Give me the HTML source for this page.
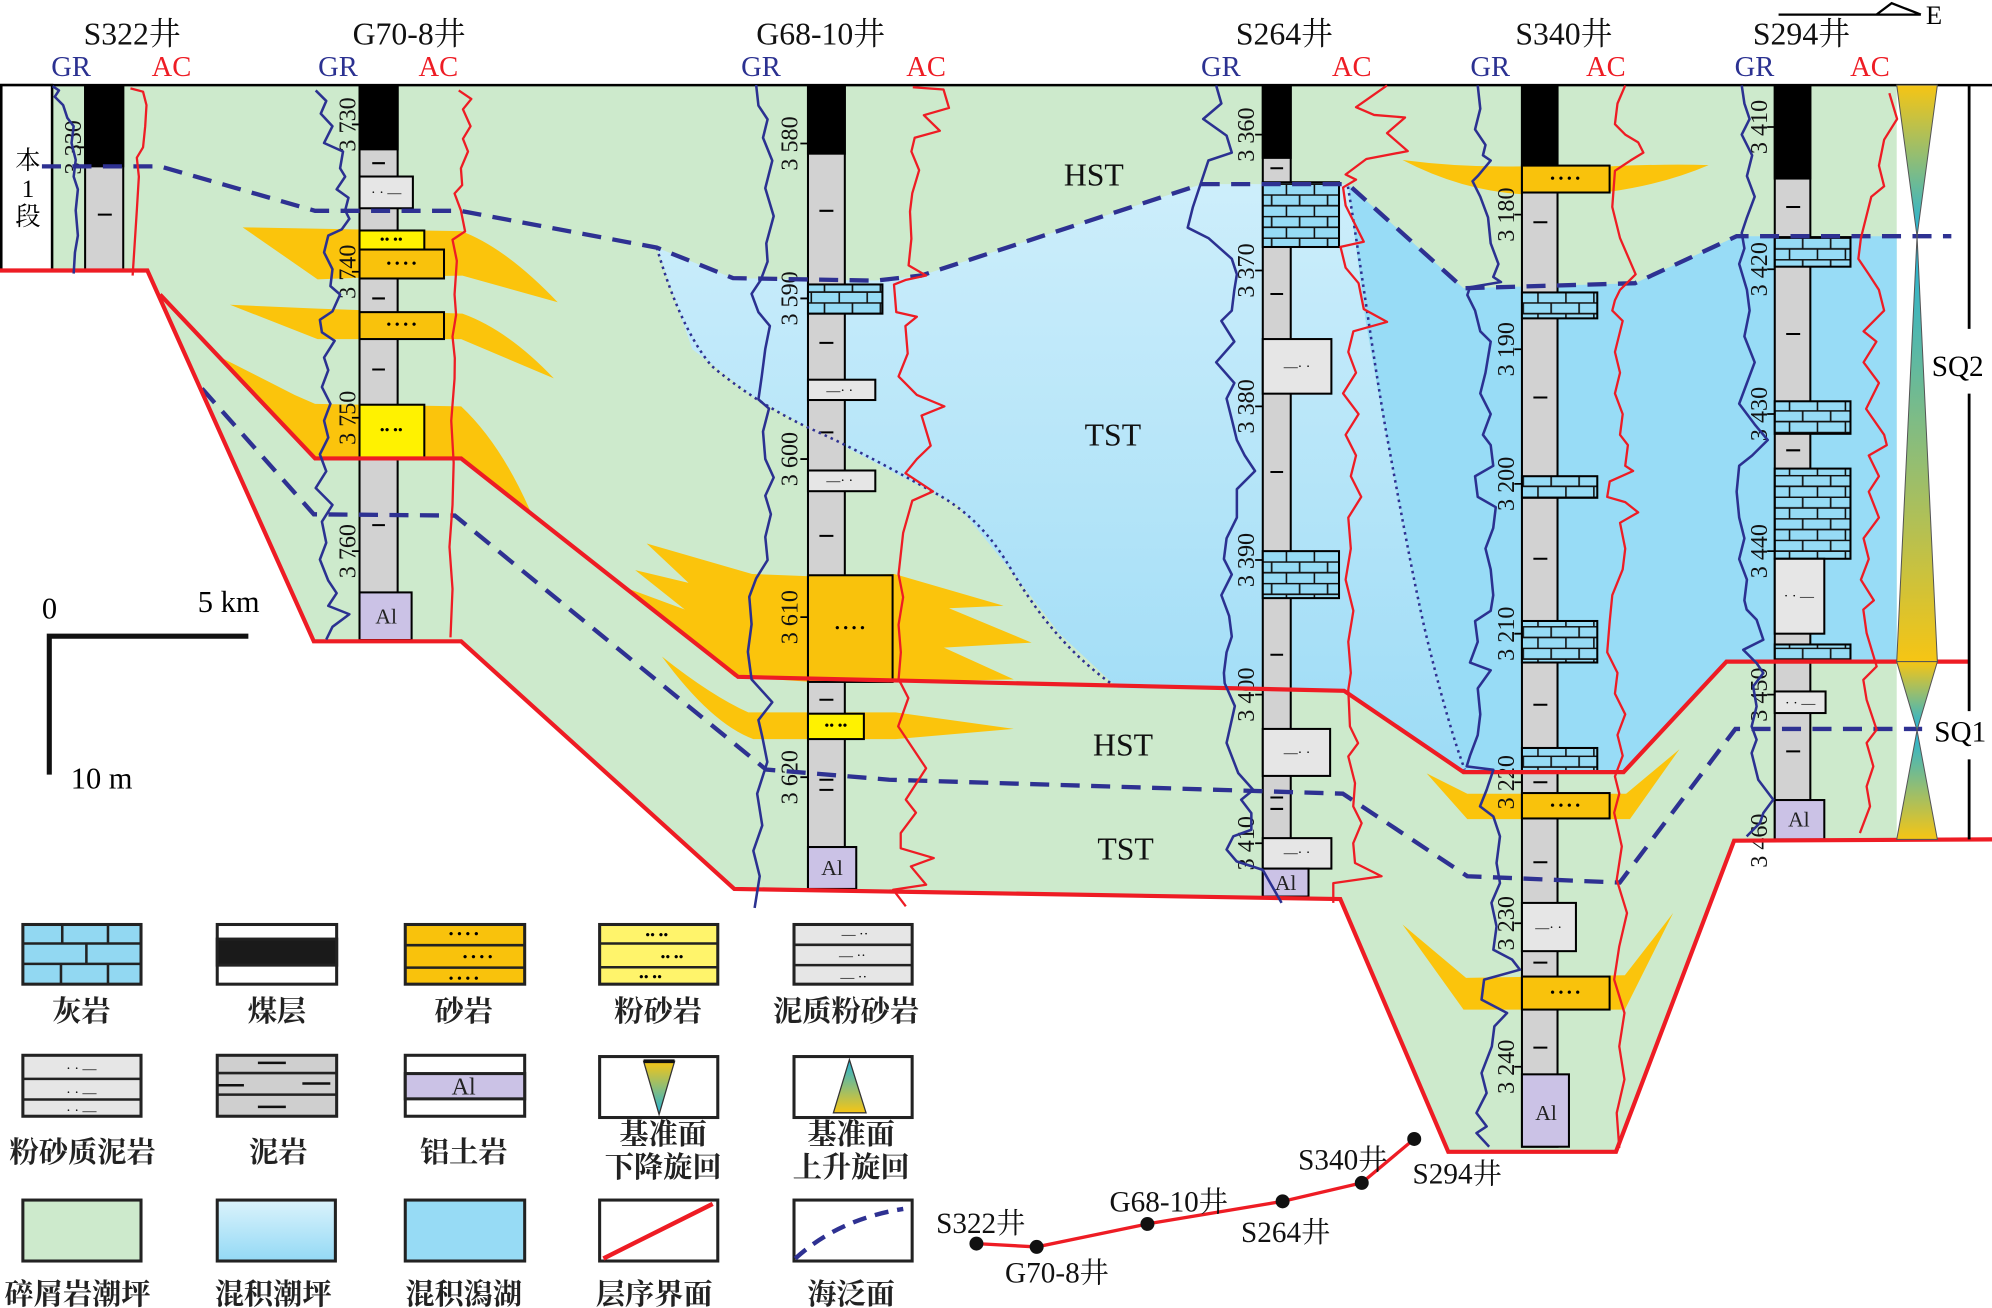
<!DOCTYPE html>
<html><head><meta charset="utf-8">
<style>
html,body{margin:0;padding:0;background:#fff;}
svg{display:block;}
text{font-family:"Liberation Serif","Noto Serif CJK SC",serif;}
.cjk{font-family:"Liberation Serif","Noto Serif CJK SC","Noto Sans CJK SC",serif;font-weight:bold;}
</style></head><body>
<svg width="1992" height="1308" viewBox="0 0 1568 1030" preserveAspectRatio="none" xmlns="http://www.w3.org/2000/svg">
<defs>
<pattern id="lime" width="22" height="17" patternUnits="userSpaceOnUse">
<rect width="22" height="17" fill="#96dbf5"/>
<path d="M0,0.5H22M0,9H22M11,0.5V9M0.6,9V17" stroke="#111" stroke-width="1.3" fill="none"/>
</pattern>
<linearGradient id="mix" x1="0" y1="145" x2="0" y2="600" gradientUnits="userSpaceOnUse">
<stop offset="0" stop-color="#cdeefb"/><stop offset="1" stop-color="#9edcf6"/></linearGradient>
<linearGradient id="ydn" x1="0" y1="0" x2="0" y2="1"><stop offset="0" stop-color="#f6c514"/><stop offset="0.5" stop-color="#8dbd78"/><stop offset="1" stop-color="#1fb3db"/></linearGradient>
<linearGradient id="yup" x1="0" y1="0" x2="0" y2="1"><stop offset="0" stop-color="#1fb3db"/><stop offset="0.5" stop-color="#8dbd78"/><stop offset="1" stop-color="#f6c514"/></linearGradient>
<linearGradient id="legmix" x1="0" y1="0" x2="0" y2="1"><stop offset="0" stop-color="#dbf3fc"/><stop offset="1" stop-color="#93d9f5"/></linearGradient>
</defs>
<rect width="1568" height="1030" fill="#fff"/>

<!-- green facies -->
<path d="M40,67 H1493 V661 H1365 L1272,907 H1140 L1055,708 L578,700 L363,505 H247 L116,213 H40 Z" fill="#cdeacc"/>
<!-- mixed tidal flat gradient -->
<path d="M517,195 L577,219 L689,221 L725,217 L946,145 L1061,145 L1075,253 L1088,326 L1104,408 L1120,489 L1141,567 L1152,608 L1055,544 L880,542 L834,499 L798,452 L754,398 L711,376 L639,338 L595,314 L545,275 Z" fill="url(#mix)"/>
<!-- lagoon -->
<path d="M1061,145 L1152,227 L1287,223 L1367,186 L1493,186 V521 H1359 L1278,608 H1152 L1141,567 L1120,489 L1104,408 L1088,326 L1075,253 Z" fill="#98dcf6"/>

<!-- sand tongues -->
<g fill="#fbc40c">
<path d="M191,179 L300,181 L363,182 Q398,195 439,238 L364,217 L300,218 L250,220 Z"/>
<path d="M181,240 L250,243 L364,247 Q400,260 436,298 L363,267 L250,267 Z"/>
<path d="M171,280 L232,311 L248,318 L363,320 Q395,350 419,406 L363,361 L248,361 Z"/>
<path d="M509,428 L592,452 L642,454 L704,452 L790,477 L747,479 L812,506 L743,510 L798,535 L703,537 L640,537 L578,533 L493,463 L539,480 L500,449 L542,459 Z"/>
<path d="M521,517 Q560,548 589,561 L705,561 L798,574 L705,582 L593,582 Q560,570 521,517 Z"/>
<path d="M1104,126 Q1150,132 1198,131 L1267,131 Q1310,129 1345,130 Q1310,145 1267,151 L1198,153 Q1150,150 1104,126 Z"/>
<path d="M1123,609 L1155,625 L1280,625 L1322,590 L1283,645 L1155,645 Z"/>
<path d="M1104,728 L1154,770 L1279,768 L1317,719 L1279,795 L1152,795 Z"/>
</g>

<!-- top line -->
<path d="M0,67 H1568" stroke="#000" stroke-width="2"/>

<!-- 本1段 box -->
<rect x="1" y="67" width="40" height="146" fill="#fff" stroke="#000" stroke-width="2"/>
<text x="22" y="133" font-size="20" text-anchor="middle" class="cjk" style="font-weight:normal">本</text>
<text x="22" y="155" font-size="20" text-anchor="middle">1</text>
<text x="22" y="177" font-size="20" text-anchor="middle" class="cjk" style="font-weight:normal">段</text>

<!-- ===== Columns ===== -->
<g stroke="#000" stroke-width="1.6">
<!-- S322 -->
<rect x="67" y="67" width="30" height="146" fill="#d2d2d2"/>
<rect x="67" y="67" width="30" height="64" fill="#000"/>
<!-- G70-8 -->
<rect x="283" y="67" width="30" height="437" fill="#d2d2d2"/>
<rect x="283" y="67" width="30" height="50.6" fill="#000"/>
<rect x="283" y="139" width="42" height="25" fill="#e6e6e6"/>
<rect x="283" y="181.5" width="51" height="15" fill="#fff200"/>
<rect x="283" y="196.5" width="66.5" height="22.8" fill="#f9c20c"/>
<rect x="283" y="245.8" width="66.5" height="21.2" fill="#f9c20c"/>
<rect x="283" y="318.7" width="51" height="41.7" fill="#fff200"/>
<rect x="283" y="466.5" width="41" height="37.5" fill="#cbc2e6"/>
<!-- G68-10 -->
<rect x="636" y="67" width="29" height="633" fill="#d2d2d2"/>
<rect x="636" y="67" width="29" height="54" fill="#000"/>
<rect x="636" y="224" width="58.6" height="23" fill="url(#lime)"/>
<rect x="636" y="299" width="53" height="16" fill="#e6e6e6"/>
<rect x="636" y="370.5" width="53" height="16.3" fill="#e6e6e6"/>
<rect x="636" y="453" width="66.6" height="84" fill="#f9c20c"/>
<rect x="636" y="562" width="44" height="20" fill="#fff200"/>
<rect x="636" y="667" width="38" height="33" fill="#cbc2e6"/>
<!-- S264 -->
<rect x="994" y="67" width="22" height="639" fill="#d2d2d2"/>
<rect x="994" y="67" width="22" height="57.3" fill="#000"/>
<rect x="994" y="143.5" width="60" height="51" fill="url(#lime)"/>
<rect x="994" y="267" width="54" height="43" fill="#e6e6e6"/>
<rect x="994" y="434" width="60" height="37" fill="url(#lime)"/>
<rect x="994" y="574" width="53" height="37" fill="#e6e6e6"/>
<rect x="994" y="660" width="54" height="24" fill="#e6e6e6"/>
<rect x="994" y="684" width="36" height="22" fill="#cbc2e6"/>
<!-- S340 -->
<rect x="1198" y="67" width="28" height="836" fill="#d2d2d2"/>
<rect x="1198" y="67" width="28" height="63.4" fill="#000"/>
<rect x="1198" y="130.4" width="69" height="21.2" fill="#f9c20c"/>
<rect x="1198" y="230.3" width="59.3" height="20.4" fill="url(#lime)"/>
<rect x="1198" y="375" width="59.3" height="17" fill="url(#lime)"/>
<rect x="1198" y="489" width="59.3" height="32.7" fill="url(#lime)"/>
<rect x="1198" y="589" width="59.3" height="19" fill="url(#lime)"/>
<rect x="1198" y="624.5" width="69" height="20" fill="#f9c20c"/>
<rect x="1198" y="711" width="42.5" height="38" fill="#e6e6e6"/>
<rect x="1198" y="769" width="69" height="26" fill="#f9c20c"/>
<rect x="1198" y="846" width="37" height="57" fill="#cbc2e6"/>
<!-- S294 -->
<rect x="1397" y="67" width="28" height="594" fill="#d2d2d2"/>
<rect x="1397" y="67" width="28" height="73.6" fill="#000"/>
<rect x="1397" y="186.7" width="59.6" height="23.3" fill="url(#lime)"/>
<rect x="1397" y="316" width="59.6" height="25.6" fill="url(#lime)"/>
<rect x="1397" y="369" width="59.6" height="71" fill="url(#lime)"/>
<rect x="1397" y="440" width="39" height="59" fill="#e6e6e6"/>
<rect x="1397" y="507.5" width="59.6" height="13.5" fill="url(#lime)"/>
<rect x="1397" y="544.5" width="40" height="17" fill="#e6e6e6"/>
<rect x="1397" y="630" width="39" height="31" fill="#cbc2e6"/>
</g>

<!-- mud dashes -->
<g stroke="#000" stroke-width="1.6">
<path d="M77,169H88 M293,128.5H303 M293,235H303 M293,291H303 M293,413.5H303
M645,166H656 M645,270H656 M645,340.5H656 M645,422H656 M645,551H656 M645,614H656 M645,622H656
M1000,132.5H1010 M1000,231.5H1010 M1000,371.7H1010 M1000,515.6H1010 M1000,628H1010 M1000,637H1010
M1207,175H1218 M1207,313H1218 M1207,440H1218 M1207,555H1218 M1207,616H1218 M1207,679H1218 M1207,758H1218 M1207,825H1218
M1406,163H1417 M1406,263H1417 M1406,354.6H1417 M1406,591.7H1417"/>
</g>
<!-- box symbols -->
<g font-size="11" text-anchor="middle" fill="#000">
<text x="304" y="155">· ·  —</text>
<text x="308" y="192">•• ••</text>
<text x="316" y="211">•  •  •  •</text>
<text x="316" y="259">•  •  •  •</text>
<text x="308" y="342">•• ••</text>
<text x="661" y="311">—· ·</text>
<text x="661" y="382">—· ·</text>
<text x="669" y="498">•  •  •  •</text>
<text x="658" y="575">•• ••</text>
<text x="1021" y="292">—· ·</text>
<text x="1021" y="596">—· ·</text>
<text x="1021" y="675">—· ·</text>
<text x="1232" y="144">•  •  •  •</text>
<text x="1232" y="638">•  •  •  •</text>
<text x="1219" y="734">—· ·</text>
<text x="1232" y="785">•  •  •  •</text>
<text x="1416" y="473">· · —</text>
<text x="1417" y="557">· · —</text>
</g>
<g font-size="17" text-anchor="middle" fill="#222">
<text x="304" y="491">Al</text>
<text x="655" y="689">Al</text>
<text x="1012" y="701">Al</text>
<text x="1217" y="882">Al</text>
<text x="1416" y="651">Al</text>
</g>

<!-- depth ticks -->
<g stroke="#000" stroke-width="1.4">
<path d="M61,116H67 M277,98H283 M277,214H283 M277,329H283 M277,434H283
M630,113H636 M630,235H636 M630,361.5H636 M630,486H636 M630,612H636
M988,106H994 M988,213H994 M988,320H994 M988,441H994 M988,547H994 M988,664H994
M1192,169H1198 M1192,275H1198 M1192,381H1198 M1192,499H1198 M1192,616H1198 M1192,727H1198 M1192,840H1198
M1391,100H1397 M1391,212H1397 M1391,326H1397 M1391,434H1397 M1391,547H1397 M1391,662H1397"/>
</g>
<g font-size="19" text-anchor="middle" fill="#111">
<text transform="translate(58,116) rotate(-90)" dominant-baseline="central">3 330</text>
<text transform="translate(274,98) rotate(-90)" dominant-baseline="central">3 730</text>
<text transform="translate(274,214) rotate(-90)" dominant-baseline="central">3 740</text>
<text transform="translate(274,329) rotate(-90)" dominant-baseline="central">3 750</text>
<text transform="translate(274,434) rotate(-90)" dominant-baseline="central">3 760</text>
<text transform="translate(622,113) rotate(-90)" dominant-baseline="central">3 580</text>
<text transform="translate(622,235) rotate(-90)" dominant-baseline="central">3 590</text>
<text transform="translate(622,361.5) rotate(-90)" dominant-baseline="central">3 600</text>
<text transform="translate(622,486) rotate(-90)" dominant-baseline="central">3 610</text>
<text transform="translate(622,612) rotate(-90)" dominant-baseline="central">3 620</text>
<text transform="translate(981,106) rotate(-90)" dominant-baseline="central">3 360</text>
<text transform="translate(981,213) rotate(-90)" dominant-baseline="central">3 370</text>
<text transform="translate(981,320) rotate(-90)" dominant-baseline="central">3 380</text>
<text transform="translate(981,441) rotate(-90)" dominant-baseline="central">3 390</text>
<text transform="translate(981,547) rotate(-90)" dominant-baseline="central">3 400</text>
<text transform="translate(981,664) rotate(-90)" dominant-baseline="central">3 410</text>
<text transform="translate(1186,169) rotate(-90)" dominant-baseline="central">3 180</text>
<text transform="translate(1186,275) rotate(-90)" dominant-baseline="central">3 190</text>
<text transform="translate(1186,381) rotate(-90)" dominant-baseline="central">3 200</text>
<text transform="translate(1186,499) rotate(-90)" dominant-baseline="central">3 210</text>
<text transform="translate(1186,616) rotate(-90)" dominant-baseline="central">3 220</text>
<text transform="translate(1186,727) rotate(-90)" dominant-baseline="central">3 230</text>
<text transform="translate(1186,840) rotate(-90)" dominant-baseline="central">3 240</text>
<text transform="translate(1385,100) rotate(-90)" dominant-baseline="central">3 410</text>
<text transform="translate(1385,212) rotate(-90)" dominant-baseline="central">3 420</text>
<text transform="translate(1385,326) rotate(-90)" dominant-baseline="central">3 430</text>
<text transform="translate(1385,434) rotate(-90)" dominant-baseline="central">3 440</text>
<text transform="translate(1385,547) rotate(-90)" dominant-baseline="central">3 450</text>
<text transform="translate(1385,662) rotate(-90)" dominant-baseline="central">3 460</text>
</g>

<!-- dotted facies boundaries -->
<g fill="none" stroke="#2e3192" stroke-width="2" stroke-dasharray="2 3.2">
<path d="M517,195 C530,240 545,270 560,288 C580,305 610,325 639,338 C670,352 700,368 730,385 C760,400 780,420 798,452 C815,480 840,515 880,542"/>
<path d="M1061,147 C1070,200 1082,290 1092,345 C1104,410 1115,470 1125,510 C1135,550 1145,585 1153,606"/>
</g>

<!-- flooding surfaces (dashed) -->
<g fill="none" stroke="#2e3192" stroke-width="3.4" stroke-dasharray="15 9">
<path d="M33,131 L126,131 L248,166 L362,166 L517,195 L577,219 L689,221 L725,217 L946,145 L1061,145 L1152,227 L1287,223 L1367,186 L1536,186"/>
<path d="M159,306 L247,405 L358,406 L603,606 L700,614 L1057,625 L1155,690 L1275,695 L1366,574 L1513,574"/>
</g>

<!-- sequence boundaries (red) -->
<g fill="none" stroke="#ee1c24" stroke-width="3.3" stroke-linejoin="miter">
<path d="M126,232 L248,361 L363,361 L581,533 L1058,544 L1152,608 L1278,608 L1359,521 L1550,521"/>
<path d="M0,213 L116,213 L247,505 L363,505 L578,700 L1055,708 L1140,907 L1272,907 L1365,662 L1568,661"/>
</g>

<!-- GR curves -->
<g fill="none" stroke="#2b3191" stroke-width="2" stroke-linejoin="round">
<polyline points="41.4,67.9 46.4,71.2 43.1,76.2 49.7,82.8 53,92.8 58,99.4 56.3,112.6 59.6,125.9 58,139.1 61.3,149.1 59.6,165.7 61.3,185.5 59,198.8 58,215.4"/>
<polyline points="248.5,71.2 256.8,79.5 252.5,89.5 261.7,99.4 255.1,112.6 270,119.3 267.7,132.5 271.7,139.1 265,149.1 274.3,155.7 271.7,165.7 275,172.3 269,180.6 258.4,185.5 255.1,198.8 261.7,212 260.1,225.3 267.7,231.9 261.7,245.2 251.8,251.8 253.4,261.7 263.4,268.4 255.1,281.6 258.4,291.5 253.4,304.8 260.1,318 255.1,331.3 258.4,344.6 251.8,357.8 256.8,371.1 248.5,384.3 261.7,397.6 253.4,410.8 256.8,427.4 251.8,440.6 258.4,457.2 265,467.1 258.4,477.1 275,483.7 261.7,493.6 256.8,503.6"/>
<polyline points="595.2,66.9 597,83.1 604.2,94 600.6,108.5 607.9,126.5 602.4,148.2 609,170.2 603.2,191.6 604.2,206 598.8,220.5 591.6,231.4 597,245.8 606,256.7 602.4,274.7 599.6,296.4 597,314.5 605.3,321.7 600.6,339.8 602.4,361.5 609,376 602.4,390.4 606.8,404.9 602.4,422.9 604.2,441 595.2,455.5 589.8,470 591.6,491.6 588.7,513.3 591.6,535 607.9,553 597,567 600,580 604,600 596,625 600,650 593,670 598,690 594,715"/>
<polyline points="957.3,67.3 961.4,81.5 947.1,93.7 965.5,106.8 969.6,120.2 951.2,126.4 945.1,144.7 939,163 934.9,179.3 951.2,187.5 969.6,203.8 973.6,216 971.6,228.3 969.6,244.6 961.4,252.7 971.6,269 957.3,285.3 971.6,301.6 965.5,313.9 969.6,330.2 973.6,346.5 979.8,358.7 987.9,370.9 973.6,385.2 973.6,407.6 965.5,423.9 963.4,440.2 969.6,452.4 961.4,468.7 967.5,485 969.6,501.3 965.5,513.6 963.4,529.9 964,538 972,556 965.5,585 974.7,608.8 986.5,622 977,629.8 985,640.3 985,653.4 970.8,658.6 965.5,669 973.4,678.3 994,685 1008.8,711"/>
<polyline points="1163.2,67.3 1165.2,85.6 1161.1,101.9 1169.3,114.1 1167.3,122.3 1173.4,126.4 1163.2,138.6 1159.1,142.7 1165.2,154.9 1171.3,171.2 1173.4,191.6 1179.5,207.9 1175.4,218.1 1181.5,222.1 1157.1,226.2 1155,232.3 1161.1,244.6 1165.2,260.9 1173.4,269 1169.3,293.5 1165.2,309.8 1173.4,326.1 1167.3,342.4 1173.4,350.5 1175.4,366.8 1161.1,375 1163.2,391.3 1177.4,399.4 1175.4,415.8 1169.3,432 1173.4,448.4 1175.4,468.7 1173.4,481 1161.1,489.1 1163.2,505.4 1157.1,521.7 1173.4,527.8 1163.2,542.1 1165.2,562.5 1163.2,578.8 1157.1,595.1 1154.5,603.5 1175.5,606.2 1170.2,622 1165,635 1175.5,643 1180.7,658.6 1178,679.6 1180.7,695.4 1174,711 1178,729.5 1175.5,747.9 1190.3,755.7 1196.4,763.6 1168.2,771.4 1166.2,787.2 1186.3,797.7 1176.3,808.2 1174.3,824 1166.2,845 1170.2,860.7 1162.2,876.4 1170.2,887 1162.2,892.2 1172.2,903"/>
<polyline points="1371,67.3 1373.1,81.5 1377.2,93.7 1371,106 1379.2,122.3 1375.1,138.6 1381.2,154.9 1375.1,171.2 1371,183.4 1373.1,195.6 1369,207.9 1375.1,228.3 1377.2,244.6 1373.1,264.9 1381.2,285.3 1375.1,301.6 1369,317.9 1381.2,334.2 1391.5,346.5 1379.2,358.7 1369,366.8 1367,387.2 1369,407.6 1373.1,423.9 1369,440.2 1375.1,456.5 1373.1,472.8 1374.9,480 1382.7,488 1388,503.8 1372.2,511.7 1382.7,522.2 1388,530 1380,540.5 1382.7,556.3 1378.8,572 1382.7,582.5 1378.8,593 1384,614 1395.8,629.7 1388,640.2 1385.4,648 1374.9,658.6"/>
</g>
<!-- AC curves -->
<g fill="none" stroke="#ee1c24" stroke-width="1.8" stroke-linejoin="round">
<polyline points="102.7,69.6 112.6,72.2 115.3,82.8 114.3,99.4 112.6,116 107.7,124.2 109.3,139.1 107.7,165.7 106,192.2 104.4,217"/>
<polyline points="361.1,71.2 371,77.9 364.4,86.1 370.4,99.4 364.4,109.3 368.4,119.3 362.8,132.5 363.8,145.8 357.8,152.4 362.8,165.7 366.1,182.2 356.2,188.8 359.6,205.4 357.8,231.9 359,248 356.2,265 358,282 357.8,298.2 355.2,331.3 357.1,364.4 356.2,397.6 353.8,430.7 356.2,463.8 354.6,501.9"/>
<polyline points="718.5,68.7 742.7,70.5 747,85 727.2,90.7 739.8,103 720,108.5 717.4,119.3 723.5,134 718.1,152.1 716.3,166.6 717.4,188 715.2,209 729,217 712.7,220.5 703.7,224.1 705.5,245.8 721.7,249.4 712.7,256.7 714.5,278.4 707.3,296.4 721.7,311 743.4,320 725.4,327.2 732.6,351 721.7,361.5 712.7,372.6 734.4,387 718.1,394.3 710.9,419.7 707.3,452.2 710.9,470.3 707.3,492 709.1,513.6 707.3,535.3 709,538 715,549.7 707,572 729,605 713,629.7 721,640 709,656 709,668 735,675.7 717,682.3 729,696.7 703,700.6 713,713.7"/>
<polyline points="1091.8,67.3 1067.4,84.4 1081.6,90.5 1106,92.5 1091.8,104.8 1108.1,119 1075.5,125.2 1059.2,137.4 1067.4,141.5 1057.2,147.6 1059.2,161.8 1073.5,190.4 1055.2,194.4 1059.2,210.8 1069.4,223 1073.5,243.4 1091.8,253.5 1065.3,260.9 1061.3,277.2 1067.4,293.5 1057.2,309.8 1069.4,326.1 1059.2,342.4 1067.4,358.7 1063.3,375 1071.5,391.3 1061.3,407.6 1063.3,432 1059.2,456.5 1065.3,481 1061.3,505.4 1063.3,529.9 1061.3,543.2 1062.6,572 1069,585.2 1061.3,595.7 1066.6,616.7 1065.2,635 1071.8,648.2 1065.2,664 1066.6,679.6 1087.5,690 1049.5,695.4 1049.5,711"/>
<polyline points="1279.3,67.3 1273.2,81.5 1271.2,97.8 1279.3,106 1289.5,112.1 1293.6,120.2 1283.4,126.4 1271.2,134.5 1269.1,163 1275.2,187.5 1287.5,216 1275.2,228.3 1271.2,236.4 1269.1,244.6 1277.3,252.7 1271.2,277.2 1275.2,293.5 1271.2,309.8 1277.3,326.1 1275.2,342.4 1281.4,350.5 1279.3,366.8 1285.5,370.9 1267.1,379.1 1265.1,391.3 1279.3,395.4 1289.5,403.5 1275.2,411.7 1279.3,432 1277.3,448.4 1269.1,468.7 1267.1,489.1 1265.1,513.6 1273.2,529.9 1271.2,546.2 1279.3,562.5 1273.2,578.8 1277.3,595.1 1271.2,611.4 1274.6,625 1270.6,640 1276.6,666.5 1272.6,692.7 1280.7,719 1274.6,745.2 1270.6,771.4 1278.7,797.7 1274.6,824 1278.7,850 1272.6,876.4 1274.6,904"/>
<polyline points="1487.2,73.4 1493.3,93.7 1483.1,110 1479,130.4 1483.1,146.7 1473,154.9 1468.9,171.2 1464.8,187.5 1462.8,203.8 1471,216 1479,228.3 1483.1,244.6 1475,252.7 1466.9,260.9 1477,269 1466.9,285.3 1479,301.6 1468.9,322 1483.1,342.4 1485.2,350.5 1471,358.7 1479,375 1471,387.2 1479,407.6 1466.9,423.9 1471,440.2 1464.8,456.5 1475,472.8 1466.7,480 1469.3,498.5 1477.2,524.8 1466.7,535.3 1469.3,551 1477.2,574.6 1469.3,585 1474.6,603.5 1469.3,619.3 1472,635 1464,656"/>
</g>

<!-- base-level hourglass -->
<g stroke="#555" stroke-width="0.8">
<polygon points="1493,67 1525,67 1509,186" fill="url(#ydn)"/>
<polygon points="1509,186 1525,521 1493,521" fill="url(#yup)"/>
<polygon points="1493,521 1525,521 1509,575" fill="url(#ydn)"/>
<polygon points="1509,575 1525,661 1493,661" fill="url(#yup)"/>
</g>
<path d="M1550,67 V259 M1550,310 V560 M1550,598 V661" stroke="#000" stroke-width="2.2"/>
<text x="1541" y="296" font-size="23" text-anchor="middle">SQ2</text>
<text x="1543" y="584" font-size="23" text-anchor="middle">SQ1</text>

<!-- well titles -->
<g font-size="25" text-anchor="middle" fill="#111">
<text x="104" y="35">S322井</text>
<text x="322" y="35">G70-8井</text>
<text x="646" y="35">G68-10井</text>
<text x="1011" y="35">S264井</text>
<text x="1231" y="35">S340井</text>
<text x="1418" y="35">S294井</text>
</g>
<g font-size="22.5" text-anchor="middle">
<text x="56" y="60" fill="#2b3191">GR</text><text x="135" y="60" fill="#ee1c24">AC</text>
<text x="266" y="60" fill="#2b3191">GR</text><text x="345" y="60" fill="#ee1c24">AC</text>
<text x="599" y="60" fill="#2b3191">GR</text><text x="729" y="60" fill="#ee1c24">AC</text>
<text x="961" y="60" fill="#2b3191">GR</text><text x="1064" y="60" fill="#ee1c24">AC</text>
<text x="1173" y="60" fill="#2b3191">GR</text><text x="1264" y="60" fill="#ee1c24">AC</text>
<text x="1381" y="60" fill="#2b3191">GR</text><text x="1472" y="60" fill="#ee1c24">AC</text>
</g>
<!-- north arrow -->
<path d="M1400,11.5 H1512 M1477,11.5 L1489,2.5 L1512,11.5" stroke="#000" stroke-width="1.8" fill="none"/>
<text x="1516" y="19" font-size="21">E</text>

<!-- system tract labels -->
<g font-size="25" text-anchor="middle" fill="#111">
<text x="861" y="146">HST</text>
<text x="876" y="351">TST</text>
<text x="884" y="595">HST</text>
<text x="886" y="677">TST</text>
</g>

<!-- scale -->
<path d="M37,501 H195.5 M38.8,499 V610" stroke="#111" stroke-width="4" fill="none"/>
<text x="39" y="487" font-size="24" text-anchor="middle">0</text>
<text x="180" y="482" font-size="24" text-anchor="middle">5 km</text>
<text x="80" y="621" font-size="24" text-anchor="middle">10 m</text>

<!-- ===== Legend ===== -->
<g stroke="#222" stroke-width="2.4">
<!-- row 1 -->
<rect x="18" y="728" width="93" height="47" fill="#92d8f2"/>
<path d="M18,743H111 M18,759H111 M49,728V743 M85,728V743 M68,743V759 M48,759V775 M85,759V775" fill="none" stroke-width="2"/>
<rect x="171" y="728" width="94" height="47" fill="#fff"/>
<rect x="171" y="739.5" width="94" height="20.5" fill="#1a1a1a"/>
<rect x="319" y="728" width="94" height="47" fill="#f9c20c"/>
<path d="M319,744.3H413 M319,762H413" fill="none" stroke-width="2"/>
<rect x="472" y="728" width="93" height="47" fill="#fff46b"/>
<path d="M472,743H565 M472,761.7H565" fill="none" stroke-width="2"/>
<rect x="625" y="728" width="93" height="47" fill="#e6e6e6"/>
<path d="M625,744H718 M625,760H718" fill="none" stroke-width="2"/>
<!-- row 2 -->
<rect x="18" y="831" width="93" height="48" fill="#e6e6e6"/>
<path d="M18,849.6H111 M18,865.8H111" fill="none" stroke-width="2"/>
<rect x="171" y="831" width="94" height="48" fill="#cfcfcf"/>
<path d="M171,845H265 M171,862H265" fill="none" stroke-width="2"/>
<rect x="319" y="831" width="94" height="48" fill="#fff"/>
<rect x="319" y="845.4" width="94" height="19.9" fill="#cbc2e6"/>
<rect x="472" y="832" width="93" height="48" fill="#fff"/>
<rect x="625" y="832" width="93" height="48" fill="#fff"/>
<!-- row 3 -->
<rect x="18" y="945" width="93" height="48" fill="#cdeacc"/>
<rect x="171" y="945" width="93" height="48" fill="url(#legmix)"/>
<rect x="319" y="945" width="94" height="48" fill="#97dbf5"/>
<rect x="472" y="945" width="93" height="48" fill="#fff"/>
<rect x="625" y="945" width="93" height="48" fill="#fff"/>
</g>
<polygon points="506.6,835.7 531,835.7 518.8,877.6" fill="url(#ydn)" stroke="#333" stroke-width="1"/>
<path d="M506.6,835.7 H531" stroke="#111" stroke-width="3"/>
<polygon points="668.6,834.4 681.7,876.3 656,876.3" fill="url(#yup)" stroke="#333" stroke-width="1"/>
<path d="M475,991 L561,948" stroke="#ee1c24" stroke-width="3.5"/>
<path d="M626,991 Q660,960 711,952" stroke="#2e3192" stroke-width="3.5" stroke-dasharray="11 7" fill="none"/>
<!-- legend symbols -->
<g font-size="11" text-anchor="middle" fill="#000">
<text x="365" y="739">•  •  •  •</text>
<text x="376" y="757">•  •  •  •</text>
<text x="365" y="774">•  •  •  •</text>
<text x="517" y="740">••    ••</text>
<text x="529" y="757">••    ••</text>
<text x="512" y="773">••    ••</text>
<text x="673" y="739">—  ··</text>
<text x="671" y="756">—  ··</text>
<text x="672" y="773">—  ··</text>
<text x="64" y="845">· ·  —</text>
<text x="64" y="864">· ·  —</text>
<text x="64" y="878">· ·  —</text>
</g>
<path d="M203,837H225 M172,854.6H192 M238,853.2H260 M203,871.6H225" stroke="#111" stroke-width="2"/>
<text x="365" y="862" font-size="19" text-anchor="middle" fill="#222">Al</text>
<!-- legend labels -->
<g class="cjk" font-size="23" text-anchor="middle" fill="#222">
<text x="64" y="804">灰岩</text>
<text x="218" y="804">煤层</text>
<text x="365" y="804">砂岩</text>
<text x="518" y="804">粉砂岩</text>
<text x="666" y="804">泥质粉砂岩</text>
<text x="65" y="915">粉砂质泥岩</text>
<text x="219" y="915">泥岩</text>
<text x="365" y="915">铝土岩</text>
<text x="522" y="901">基准面</text>
<text x="522" y="927">下降旋回</text>
<text x="670" y="901">基准面</text>
<text x="670" y="927">上升旋回</text>
<text x="61" y="1027">碎屑岩潮坪</text>
<text x="215" y="1027">混积潮坪</text>
<text x="365" y="1027">混积潟湖</text>
<text x="515" y="1027">层序界面</text>
<text x="670" y="1027">海泛面</text>
</g>

<!-- location map -->
<polyline points="768.6,979.3 816,981.9 903.2,963.8 1009.6,946 1071.9,931.5 1113.2,896.9" fill="none" stroke="#ee1c24" stroke-width="2.6"/>
<g fill="#111">
<circle cx="768.6" cy="979.3" r="5.5"/><circle cx="816" cy="981.9" r="5.5"/><circle cx="903.2" cy="963.8" r="5.5"/>
<circle cx="1009.6" cy="946" r="5.5"/><circle cx="1071.9" cy="931.5" r="5.5"/><circle cx="1113.2" cy="896.9" r="5.5"/>
</g>
<g font-size="23" text-anchor="middle" fill="#111">
<text x="772" y="971">S322井</text>
<text x="832" y="1010">G70-8井</text>
<text x="920" y="954">G68-10井</text>
<text x="1012" y="978">S264井</text>
<text x="1057" y="921">S340井</text>
<text x="1147" y="932">S294井</text>
</g>
</svg>
</body></html>
